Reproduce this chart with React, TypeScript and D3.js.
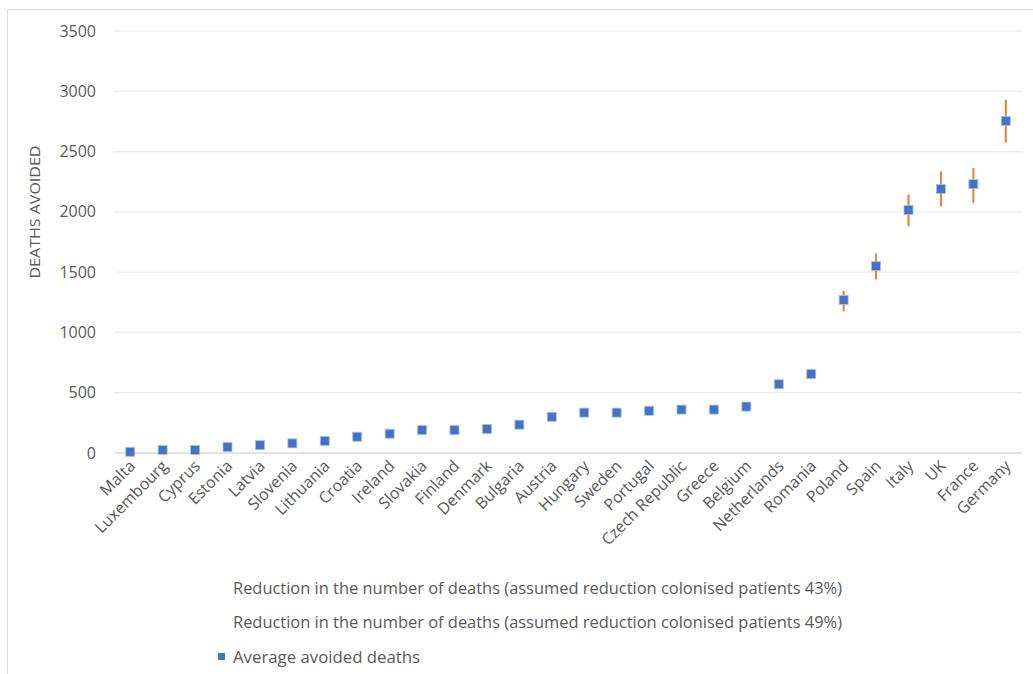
import React from "react";
import * as d3 from "d3";

// Countries ordered by average number of deaths avoided
const countries = [
  "Malta", "Luxembourg", "Cyprus", "Estonia", "Latvia", "Slovenia", "Lithuania",
  "Croatia", "Ireland", "Slovakia", "Finland", "Denmark", "Bulgaria", "Austria",
  "Hungary", "Sweden", "Portugal", "Czech Republic", "Greece", "Belgium",
  "Netherlands", "Romania", "Poland", "Spain", "Italy", "UK", "France", "Germany",
];

// Deaths avoided assuming a 43% reduction among colonised patients
const reduction43 = [
  9, 23, 23, 47, 61, 75, 93, 126, 150, 178, 178, 187, 220, 280,
  313, 313, 327, 337, 337, 360, 533, 612, 1175, 1440, 1880, 2045, 2075, 2575,
];

// Deaths avoided assuming a 49% reduction among colonised patients
const reduction49 = [
  11, 27, 27, 53, 69, 85, 107, 144, 170, 202, 202, 213, 250, 320,
  357, 357, 373, 383, 383, 410, 607, 698, 1345, 1655, 2145, 2335, 2365, 2930,
];

// Average avoided deaths
const averageDeaths = [
  10, 25, 25, 50, 65, 80, 100, 135, 160, 190, 190, 200, 235, 300,
  335, 335, 350, 360, 360, 385, 570, 655, 1270, 1550, 2015, 2190, 2230, 2755,
];

const yTicks = [0, 500, 1000, 1500, 2000, 2500, 3000, 3500];

const legendLabels = [
  "Reduction in the number of deaths (assumed reduction colonised patients 43%)",
  "Reduction in the number of deaths (assumed reduction colonised patients 49%)",
  "Average avoided deaths",
];
const legendWidths = [609, 609, 187];

const W = 1033;
const H = 674;
const plot = { left: 114, right: 1022, top: 31, bottom: 453 };
const font = "'Open Sans', 'Noto Sans', sans-serif";
const textColor = "#595959";
const blue = "#4472C4";
const orange = "#ED7D31";

export default function App() {
  const x = d3
    .scaleBand<string>()
    .domain(countries)
    .range([plot.left, plot.right]);
  const y = d3.scaleLinear().domain([0, 3500]).range([plot.bottom, plot.top]);
  const cx = (c: string) => (x(c) ?? 0) + x.bandwidth() / 2;
  const m = 9;

  return (
    <svg
      width={W}
      height={H}
      style={{ position: "absolute", left: 0, top: 0, background: "#fff" }}
    >
      <rect x={7.5} y={9.5} width={W + 10} height={H + 10} fill="#fff" stroke="#d9d9d9" />

      {/* gridlines */}
      {yTicks.map((t) =>
        t === 0 ? null : (
          <line
            key={t}
            x1={plot.left}
            x2={plot.right}
            y1={y(t)}
            y2={y(t)}
            stroke="#ececec"
            strokeWidth={1.2}
          />
        )
      )}
      <line
        x1={plot.left}
        x2={plot.right}
        y1={y(0)}
        y2={y(0)}
        stroke="#c8c8c8"
        strokeWidth={1.2}
      />

      {/* y tick labels */}
      {yTicks.map((t) => (
        <text
          key={t}
          x={96}
          y={y(t)}
          dy="0.35em"
          textAnchor="end"
          fontFamily={font}
          fontSize={16}
          fill={textColor}
        >
          {t}
        </text>
      ))}

      {/* y axis title */}
      <text
        transform={`translate(40, ${212}) rotate(-90)`}
        textAnchor="middle"
        fontFamily={font}
        fontSize={15}
        textLength={133}
        lengthAdjust="spacingAndGlyphs"
        fill={textColor}
      >
        DEATHS AVOIDED
      </text>

      {/* category labels */}
      {countries.map((c) => (
        <text
          key={c}
          transform={`translate(${cx(c) + 6}, ${467}) rotate(-45)`}
          textAnchor="end"
          fontFamily={font}
          fontSize={16}
          fill={textColor}
        >
          {c}
        </text>
      ))}

      {/* range between the 43% and 49% scenarios */}
      {countries.map((c, i) => (
        <line
          key={c}
          x1={cx(c)}
          x2={cx(c)}
          y1={y(reduction43[i])}
          y2={y(reduction49[i])}
          stroke={orange}
          strokeWidth={2}
        />
      ))}

      {/* average markers */}
      {countries.map((c, i) => (
        <rect
          key={c}
          x={cx(c) - m / 2}
          y={y(averageDeaths[i]) - m / 2}
          width={m}
          height={m}
          fill={blue}
          stroke="#a9bfe6"
          strokeWidth={0.8}
        />
      ))}

      {/* legend */}
      {legendLabels.map((l, i) => (
        <g key={l} transform={`translate(233, ${588 + i * 34.5})`}>
          {i === 2 && (
            <rect x={-15} y={-4} width={7} height={7} fill={blue} />
          )}
          <text
            y={0}
            dy="0.35em"
            fontFamily={font}
            fontSize={16}
            textLength={legendWidths[i]}
            lengthAdjust="spacingAndGlyphs"
            fill={textColor}
          >
            {l}
          </text>
        </g>
      ))}
    </svg>
  );
}
